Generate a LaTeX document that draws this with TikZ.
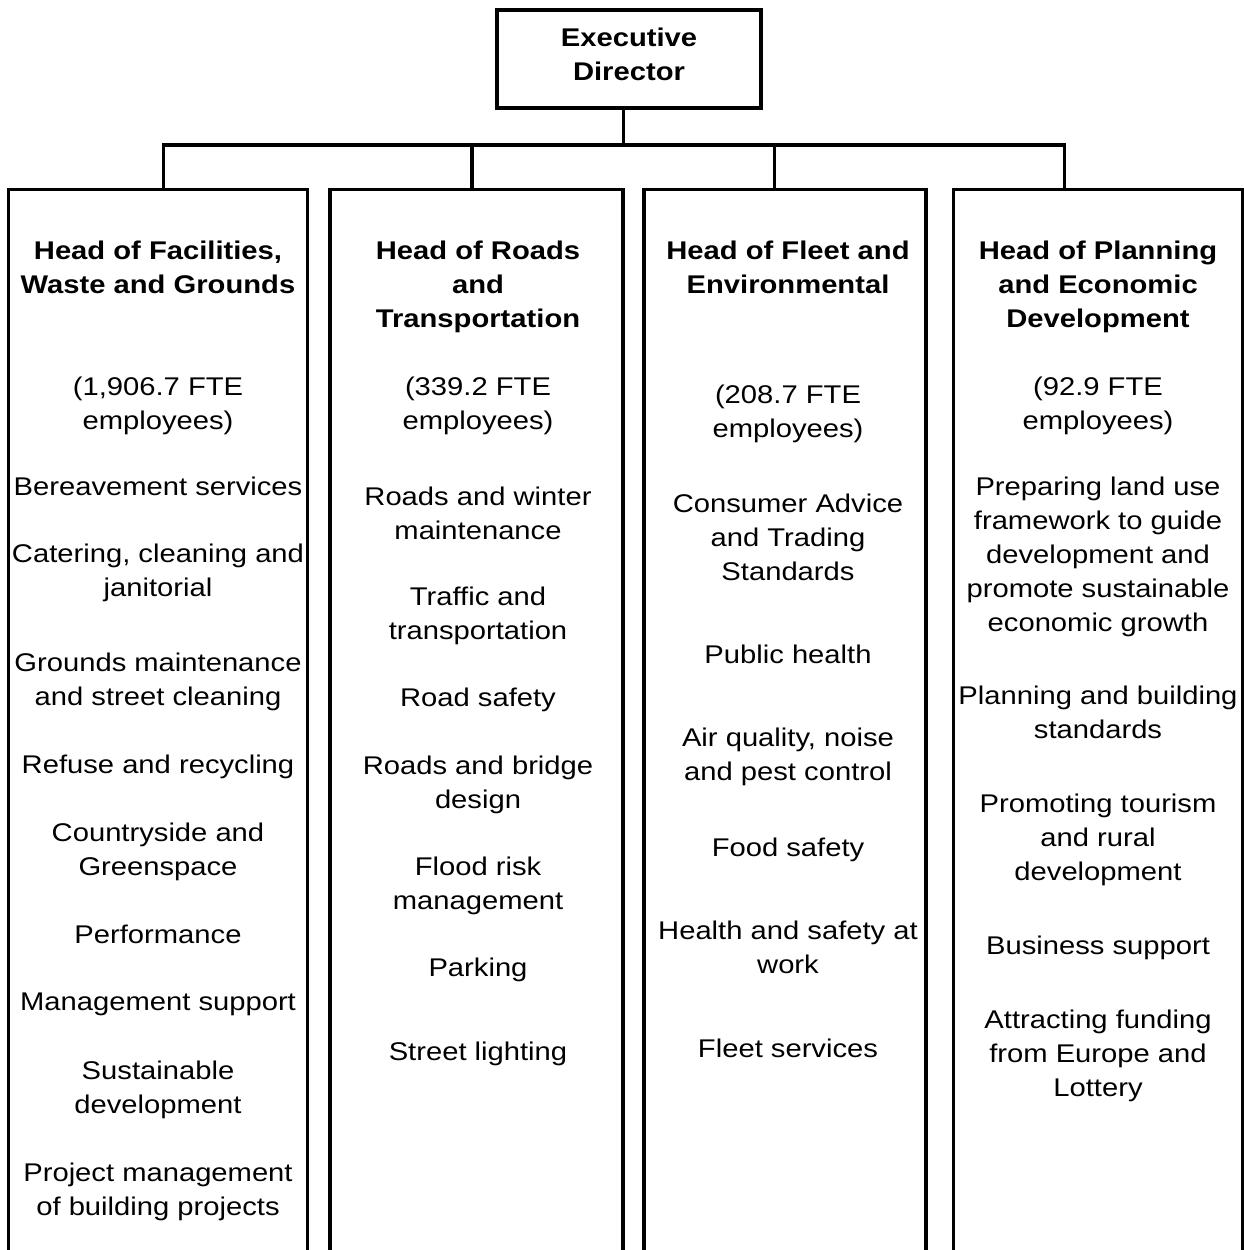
\documentclass[tikz,border=0pt]{standalone}
\usepackage{fontspec}
\setmainfont{Liberation Sans}[FakeStretch=1.14]
\newcommand{\orgfont}{\fontsize{25.6}{34}\selectfont}
\begin{document}
\begin{tikzpicture}[x=1pt, y=-1pt, line width=3.2pt,
        unit/.style={draw, inner sep=0pt, anchor=north, minimum height=1100pt},
        item/.style={font=\orgfont, align=center, inner sep=0pt, anchor=north,
            execute at begin node=\strut},
        head/.style={item, font=\orgfont\bfseries}]
    \useasboundingbox (0,0) rectangle (1244,1250);
    \clip (0,0) rectangle (1244,1250);

    \node[draw, inner sep=0pt, minimum width=264pt, minimum height=98pt,
        font=\orgfont\bfseries, align=center,
        execute at begin node=\strut, execute at end node=\strut]
        (exec) at (629,59) {Executive\\Director};

    % the four columns, open at the foot of the page
    \node[unit, minimum width=298.5pt] (colfac) at (158,188) {};
    \node[unit, minimum width=293pt] (colroad) at (476.5,188) {};
    \node[unit, minimum width=282pt] (colfleet) at (785,188) {};
    \node[unit, minimum width=289pt] (colplan) at (1097.6,188) {};

    \coordinate (j0) at (623.5,145);
    \coordinate (j1) at (163.3,145);
    \coordinate (j2) at (472,145);
    \coordinate (j3) at (774.5,145);
    \coordinate (j4) at (1064.7,145);

    \draw (exec.south -| j0) -- (j0);
    \draw (colfac.north -| j1) -- (j1) -- (j4) -- (colplan.north -| j4);
    \draw (j2) -- (colroad.north -| j2);
    \draw (j3) -- (colfleet.north -| j3);

    \node[head] (hfac) at (158,239) {Head of Facilities,\\Waste and Grounds};
    \node[item] (nfac) at (158,375) {(1,906.7 FTE\\employees)};
    \node[item] (fac1) at (158,470) {Bereavement services};
    \node[item] (fac2) at (158,542) {Catering, cleaning and\\janitorial};
    \node[item] (fac3) at (158,651) {Grounds maintenance\\and street cleaning};
    \node[item] (fac4) at (158,748) {Refuse and recycling};
    \node[item] (fac5) at (158,821) {Countryside and\\Greenspace};
    \node[item] (fac6) at (158,918) {Performance};
    \node[item] (fac7) at (158,985) {Management support};
    \node[item] (fac8) at (158,1059) {Sustainable\\development};
    \node[item] (fac9) at (158,1161) {Project management\\of building projects};

    \node[head] (hroad) at (478,239) {Head of Roads\\and\\Transportation};
    \node[item] (nroad) at (478,375) {(339.2 FTE\\employees)};
    \node[item] (road1) at (478,485) {Roads and winter\\maintenance};
    \node[item] (road2) at (478,585) {Traffic and\\transportation};
    \node[item] (road3) at (478,681) {Road safety};
    \node[item] (road4) at (478,754) {Roads and bridge\\design};
    \node[item] (road5) at (478,855) {Flood risk\\management};
    \node[item] (road6) at (478,951) {Parking};
    \node[item] (road7) at (478,1035) {Street lighting};

    \node[head] (hfleet) at (788,239) {Head of Fleet and\\Environmental};
    \node[item] (nfleet) at (788,383) {(208.7 FTE\\employees)};
    \node[item] (fleet1) at (788,492) {Consumer Advice\\and Trading\\Standards};
    \node[item] (fleet2) at (788,638) {Public health};
    \node[item] (fleet3) at (788,726) {Air quality, noise\\and pest control};
    \node[item] (fleet4) at (788,831) {Food safety};
    \node[item] (fleet5) at (788,919) {Health and safety at\\work};
    \node[item] (fleet6) at (788,1032) {Fleet services};

    \node[head] (hplan) at (1098,239) {Head of Planning\\and Economic\\Development};
    \node[item] (nplan) at (1098,375) {(92.9 FTE\\employees)};
    \node[item] (plan1) at (1098,475) {Preparing land use\\framework to guide\\development and\\promote sustainable\\economic growth};
    \node[item] (plan2) at (1098,684) {Planning and building\\standards};
    \node[item] (plan3) at (1098,792) {Promoting tourism\\and rural\\development};
    \node[item] (plan4) at (1098,929) {Business support};
    \node[item] (plan5) at (1098,1008) {Attracting funding\\from Europe and\\Lottery};
\end{tikzpicture}
\end{document}
